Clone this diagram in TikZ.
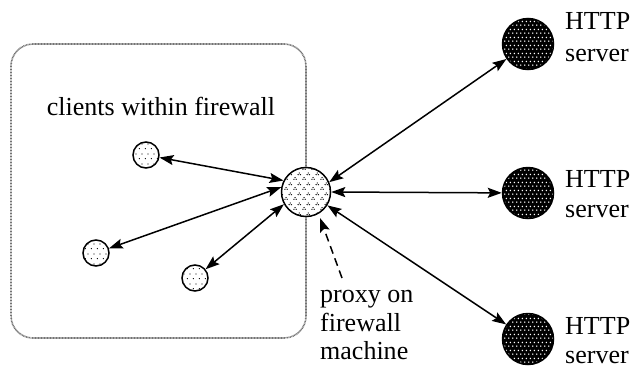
\documentclass[tikz,border=0pt]{standalone}
\usepackage{fontspec}
\setmainfont{Liberation Serif}
\usetikzlibrary{arrows.meta,patterns}

% sparse staggered dots for the client machines
\pgfdeclarepatternformonly{clientdots}{\pgfqpoint{0pt}{0pt}}{\pgfqpoint{6pt}{10pt}}{\pgfqpoint{6pt}{10pt}}{%
  \pgfpathcircle{\pgfqpoint{1.5pt}{2.5pt}}{0.7pt}%
  \pgfpathcircle{\pgfqpoint{4.5pt}{7.5pt}}{0.7pt}%
  \pgfusepath{fill}}

% little three-dot carets for the proxy
\pgfdeclarepatternformonly{proxymarks}{\pgfqpoint{0pt}{0pt}}{\pgfqpoint{8.6pt}{10pt}}{\pgfqpoint{8.6pt}{10pt}}{%
  \pgfpathcircle{\pgfqpoint{2.15pt}{3.7pt}}{0.7pt}%
  \pgfpathcircle{\pgfqpoint{1.0pt}{1.8pt}}{0.7pt}%
  \pgfpathcircle{\pgfqpoint{3.3pt}{1.8pt}}{0.7pt}%
  \pgfpathcircle{\pgfqpoint{6.45pt}{8.7pt}}{0.7pt}%
  \pgfpathcircle{\pgfqpoint{5.3pt}{6.8pt}}{0.7pt}%
  \pgfpathcircle{\pgfqpoint{7.6pt}{6.8pt}}{0.7pt}%
  \pgfusepath{fill}}

% dense staggered dots for the servers (drawn in white over black)
\pgfdeclarepatternformonly{serverdots}{\pgfqpoint{0pt}{0pt}}{\pgfqpoint{4pt}{8pt}}{\pgfqpoint{4pt}{8pt}}{%
  \pgfpathcircle{\pgfqpoint{1pt}{1pt}}{0.9pt}%
  \pgfpathcircle{\pgfqpoint{3pt}{5pt}}{0.9pt}%
  \pgfusepath{fill}}

\tikzset{
  client/.style={circle, draw, line width=1.5pt, minimum size=26pt, inner sep=0pt,
                 preaction={fill=white}, pattern=clientdots},
  proxynode/.style={circle, draw, line width=1.5pt, minimum size=49pt, inner sep=0pt,
                 preaction={fill=white}, pattern=proxymarks},
  server/.style={circle, draw, line width=1.5pt, minimum size=51pt, inner sep=0pt,
                 preaction={fill=black}, pattern=serverdots, pattern color=white},
  tip/.style={>={Stealth[length=14pt,width=10pt,inset=2.5pt]}},
  link/.style={tip, <->, line width=1.5pt},
  pointer/.style={tip, ->, line width=1.5pt, dash pattern=on 8pt off 5pt},
  fw/.style={draw=black!55, line width=1.6pt, dash pattern=on 0.9pt off 0.6pt, rounded corners=22pt},
  lbl/.style={font=\fontsize{26}{30}\selectfont, inner sep=0pt},
}

\begin{document}
\begin{tikzpicture}[x=1pt, y=-1pt]
  \useasboundingbox (0,0) rectangle (631,370);

  % firewall boundary
  \draw[fw] (11,44) rectangle (306,338);

  % machines
  \node[client] (c1) at (146,155) {};
  \node[client] (c2) at (96,253) {};
  \node[client] (c3) at (195,278) {};
  \node[proxynode] (proxy) at (306,192) {};
  \node[server] (s1) at (528,44) {};
  \node[server] (s2) at (528,193) {};
  \node[server] (s3) at (528,339) {};

  % labels
  \node[lbl, anchor=base] (cwf) at (161,115) {clients within firewall};
  \node[lbl, anchor=base west] (pl1) at (320,302) {proxy on};
  \node[lbl, anchor=base west] (pl2) at (320,331) {firewall};
  \node[lbl, anchor=base west] (pl3) at (320,359) {machine};
  \node[lbl, anchor=base west] (h1a) at (565,29) {HTTP};
  \node[lbl, anchor=base west] (h1b) at (565,61) {server};
  \node[lbl, anchor=base west] (h2a) at (565,187) {HTTP};
  \node[lbl, anchor=base west] (h2b) at (565,217) {server};
  \node[lbl, anchor=base west] (h3a) at (565,334) {HTTP};
  \node[lbl, anchor=base west] (h3b) at (565,363) {server};

  % client <-> proxy
  \draw[link] (c1) -- (proxy.153);
  \draw[link] (c2) -- (proxy.169);
  \draw[link] (c3) -- (proxy.209);

  % proxy <-> servers
  \draw[link] (proxy.23) -- (s1);
  \draw[link] (proxy.0) -- (s2);
  \draw[link] (proxy.-32) -- (s3);

  % pointer from the proxy label
  \coordinate (pstart) at (342,278);
  \coordinate (ptip) at (320,218);
  \draw[pointer] (pstart) -- (ptip);
\end{tikzpicture}
\end{document}
